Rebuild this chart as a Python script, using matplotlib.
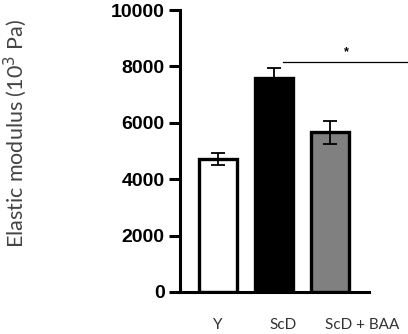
import matplotlib
matplotlib.use("Agg")
import matplotlib.pyplot as plt
from matplotlib.transforms import ScaledTranslation

# Data
groups = ["Y", "ScD", "ScD + BAA"]
means = [4720, 7600, 5660]
errors = [220, 360, 400]
bar_colors = ["white", "black", "#808080"]

# significance bracket (ScD vs ScD + BAA)
sig_y = 8150
sig_x = [1.16, 3.38]
sig_text = "*"

plt.rcParams["font.family"] = ["Liberation Sans", "DejaVu Sans"]

fig = plt.figure(figsize=(4.08, 3.34), dpi=100)
ax = fig.add_axes([0.441, 0.126, 0.463, 0.844])

x = list(range(len(groups)))
ax.bar(x, means, width=0.68, color=bar_colors, edgecolor="black",
       linewidth=2.4, zorder=2)
ax.errorbar(x, means, yerr=errors, fmt="none", ecolor="black",
            elinewidth=1.3, capsize=5, capthick=1.3, zorder=3)

# significance line and marker
ax.plot(sig_x, [sig_y, sig_y], color="black", lw=0.9, clip_on=False)
ax.text(2.29, sig_y + 150, sig_text, ha="center", va="bottom",
        fontsize=9, fontweight="bold")

ax.set_xlim(-0.68, 2.69)
ax.set_ylim(0, 10000)
ax.set_yticks([0, 2000, 4000, 6000, 8000, 10000])
ax.set_xticks(x)
ax.set_xticklabels(groups, fontsize=11, color="#333333", family="Lato")
for lbl in ax.get_yticklabels():
    lbl.set_fontweight("bold")
    lbl.set_fontsize(14)

ax.tick_params(axis="y", length=8, width=2.2, pad=3)
ax.tick_params(axis="x", length=0, pad=19)

# x labels sit left-aligned, slightly left of bar centres
shift = ScaledTranslation(-5 / 100, 0, fig.dpi_scale_trans)
for lbl in ax.get_xticklabels():
    lbl.set_ha("left")
    lbl.set_transform(lbl.get_transform() + shift)

for side in ["top", "right"]:
    ax.spines[side].set_visible(False)
for side in ["left", "bottom"]:
    ax.spines[side].set_linewidth(2.2)

ax.set_ylabel("Elastic modulus (10$^3$ Pa)", fontsize=15.5,
              color="#444444", family="Lato")
ax.yaxis.set_label_coords(-0.80, 0.56)

fig.savefig("out.png", dpi=100)
